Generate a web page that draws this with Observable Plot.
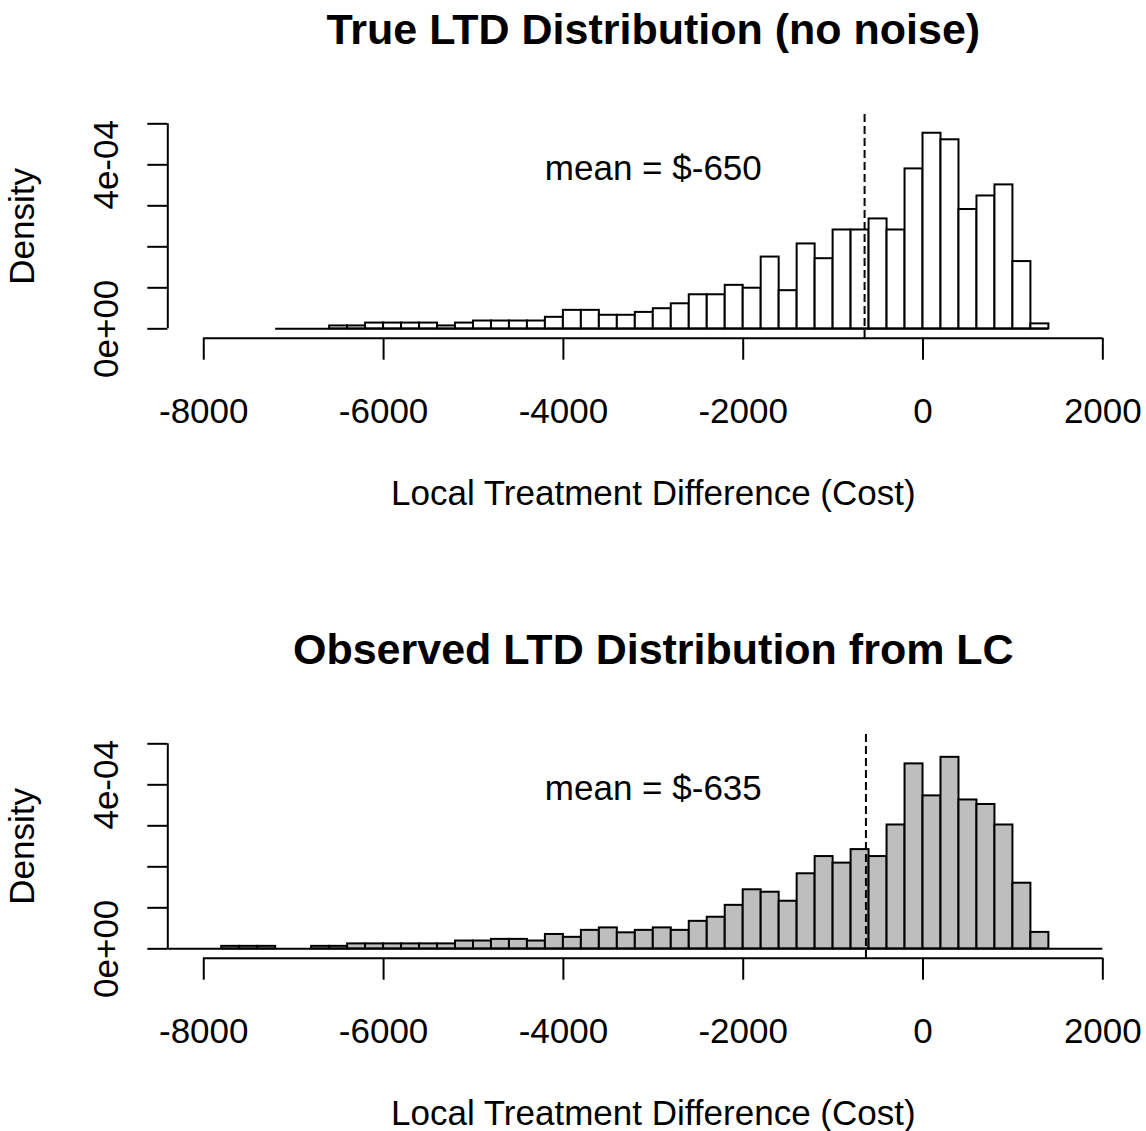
<!DOCTYPE html>
<html>
<head>
<meta charset="utf-8">
<script src="https://cdn.jsdelivr.net/npm/d3@7"></script>
<script src="https://cdn.jsdelivr.net/npm/@observablehq/plot@0.6"></script>
<style>
  html, body { margin: 0; padding: 0; background: #ffffff; }
  #chart svg { display: block; }
</style>
</head>
<body>
<div id="chart"></div>
<script>
// ---- data (densities in units of 1e-4) ----
const binWidth = 200;

const topFirstEdge = -7200;
const topDensity = [
  0, 0, 0, 0.07, 0.07, 0.14, 0.14, 0.14, 0.14, 0.07,
  0.14, 0.19, 0.19, 0.19, 0.19, 0.28, 0.45, 0.45, 0.33, 0.33,
  0.40, 0.49, 0.61, 0.83, 0.83, 1.06, 0.99, 1.75, 0.93, 2.07,
  1.71, 2.41, 2.41, 2.68, 2.41, 3.90, 4.77, 4.61, 2.91, 3.24,
  3.51, 1.64, 0.12
];
const topMean = -650;

const bottomFirstEdge = -8400;
const bottomDensity = [
  0, 0, 0, 0.06, 0.06, 0.06, 0, 0, 0.06, 0.06,
  0.12, 0.12, 0.12, 0.12, 0.12, 0.12, 0.19, 0.19, 0.23, 0.23,
  0.19, 0.35, 0.28, 0.45, 0.51, 0.39, 0.45, 0.51, 0.45, 0.67,
  0.77, 1.06, 1.44, 1.38, 1.16, 1.83, 2.25, 2.09, 2.42, 2.25,
  3.02, 4.51, 3.73, 4.67, 3.63, 3.52, 3.02, 1.60, 0.40, 0,
  0, 0
];
const bottomMean = -635;

const titles = ["True LTD Distribution (no noise)", "Observed LTD Distribution from LC"];
const meanLabels = ["mean = $-650", "mean = $-635"];
const meanLabelAt = [-3000, 4];
const fills = ["#ffffff", "#bebebe"];

const xTicks = [-8000, -6000, -4000, -2000, 0, 2000];
const xTickLabels = ["-8000", "-6000", "-4000", "-2000", "0", "2000"];
const yTicks = [0, 1, 2, 3, 4, 5];
const yTickLabels = ["0e+00", "", "", "", "4e-04", ""];
const xLabel = "Local Treatment Difference (Cost)";
const yLabel = "Density";

// plot-region limits (like R's usr)
const xDomain = [-8400, 2400];
const yDomain = [-0.229, 5.227];

const FONT = "'Liberation Sans', Arial, Helvetica, sans-serif";

function panel({firstEdge, density, mean, title, meanLabel, fill, height}) {
  const bins = density.map((d, i) => ({
    x1: firstEdge + i * binWidth,
    x2: firstEdge + (i + 1) * binWidth,
    d
  }));
  const lastEdge = firstEdge + density.length * binWidth;
  const yLab = yTicks.map((v, i) => ({v, t: yTickLabels[i]})).filter(o => o.t !== "");
  return Plot.plot({
    width: 1146,
    height,
    marginLeft: 167.3,
    marginRight: 7.7,
    marginTop: 114,
    marginBottom: height - 337.7,
    x: {domain: xDomain, label: null},
    y: {domain: yDomain, label: null},
    style: {fontFamily: FONT, background: "#ffffff", color: "#000000"},
    marks: [
      // histogram baseline (zero-height bins)
      Plot.ruleY([0], {x1: firstEdge, x2: lastEdge, stroke: "#000", strokeWidth: 2}),
      // bars
      Plot.rect(bins.filter(b => b.d > 0), {
        x1: "x1", x2: "x2", y1: 0, y2: "d",
        fill, stroke: "#000", strokeWidth: 2
      }),
      // mean line
      Plot.ruleX([mean], {stroke: "#000", strokeWidth: 2, strokeDasharray: "8,4"}),
      Plot.text([meanLabel], {
        x: meanLabelAt[0], y: meanLabelAt[1], text: d => d,
        fontSize: 35, lineAnchor: "middle", dy: 4, fill: "#000"
      }),
      // x axis (R style)
      Plot.ruleY([yDomain[0]], {x1: xTicks[0], x2: xTicks[xTicks.length - 1], stroke: "#000", strokeWidth: 2}),
      Plot.axisX(xTicks, {
        anchor: "bottom", tickSize: 22, tickPadding: 38, fontSize: 35,
        strokeWidth: 2, label: null,
        tickFormat: d => xTickLabels[xTicks.indexOf(d)]
      }),
      // y axis (R style)
      Plot.ruleX([xDomain[0]], {y1: yTicks[0], y2: yTicks[yTicks.length - 1], stroke: "#000", strokeWidth: 2}),
      Plot.axisY(yTicks, {
        anchor: "left", tickSize: 20, strokeWidth: 2, label: null,
        tickFormat: () => ""
      }),
      Plot.text(yLab, {
        y: "v", text: "t", frameAnchor: "left", rotate: -90,
        dx: -61, fontSize: 35, textAnchor: "middle", lineAnchor: "middle", fill: "#000"
      }),
      Plot.text([yLabel], {
        text: d => d, frameAnchor: "left", rotate: -90,
        dx: -145, fontSize: 35, textAnchor: "middle", lineAnchor: "middle", fill: "#000"
      }),
      Plot.text([xLabel], {
        text: d => d, frameAnchor: "bottom", dy: 156,
        fontSize: 35, lineAnchor: "middle", fill: "#000"
      }),
      // title
      Plot.text([title], {
        text: d => d, frameAnchor: "top", dy: -84,
        fontSize: 43, fontWeight: "bold", lineAnchor: "middle", fill: "#000"
      })
    ]
  });
}

const chart = document.getElementById("chart");
chart.appendChild(panel({
  firstEdge: topFirstEdge, density: topDensity, mean: topMean,
  title: titles[0], meanLabel: meanLabels[0], fill: fills[0], height: 620
}));
chart.appendChild(panel({
  firstEdge: bottomFirstEdge, density: bottomDensity, mean: bottomMean,
  title: titles[1], meanLabel: meanLabels[1], fill: fills[1], height: 511
}));
</script>
</body>
</html>
